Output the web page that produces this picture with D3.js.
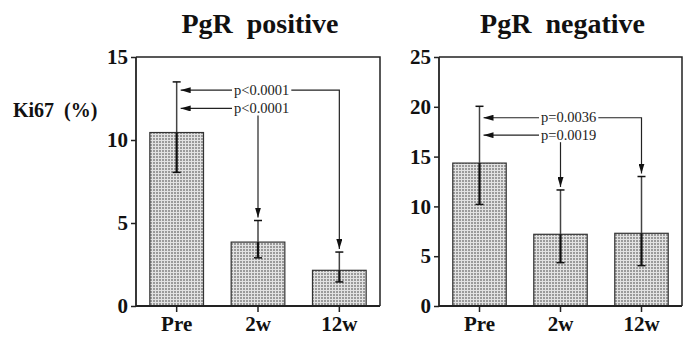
<!doctype html>
<html>
  <head>
    <meta charset="utf-8" />
    <title>Ki67 by PgR status</title>
    <script type="text/javascript" src="https://cdnjs.cloudflare.com/ajax/libs/d3/7.8.5/d3.min.js"></script>
    <style>
      body {
        margin:0;
        background:#fff;
      }
      svg text {
        font-family:"Liberation Serif", "DejaVu Serif", serif;
      }
    </style>
  </head>
  <body>
    <div id="chart"></div>
    <script type="text/javascript">

(function() {

/*chart data*/
var categories = ["Pre", "2w", "12w"];

var pos_mean  = [10.45, 3.85, 2.15];
var pos_upper = [13.5, 5.15, 3.25];
var pos_lower = [8.05, 2.9, 1.45];
var pos_ticks = [0, 5, 10, 15];

var neg_mean  = [14.35, 7.2, 7.3];
var neg_upper = [20.05, 11.65, 13.0];
var neg_lower = [10.2, 4.35, 4.05];
var neg_ticks = [0, 5, 10, 15, 20, 25];

/*comparison brackets: from Pre to target group, at height y (data units)*/
var pos_tests = [
  {to:"12w", y:13.0, label:"p<0.0001"},
  {to:"2w",  y:11.9, label:"p<0.0001"}
];
var neg_tests = [
  {to:"12w", y:18.9, label:"p=0.0036"},
  {to:"2w",  y:17.15, label:"p=0.0019"}
];

var W = 687, H = 337;

var svg = d3.select("#chart").append("svg")
  .attr("width", W)
  .attr("height", H);

/*stippled fill used by the bars*/
var defs = svg.append("defs");
var pat = defs.append("pattern")
  .attr("id", "stipple")
  .attr("patternUnits", "userSpaceOnUse")
  .attr("width", 3)
  .attr("height", 3);
pat.append("rect").attr("width", 3).attr("height", 3).attr("fill", "#e2e2e2");
pat.append("rect").attr("width", 2).attr("height", 2).attr("fill", "#9a9a9a");

defs.append("marker")
  .attr("id", "arrow")
  .attr("viewBox", "0 0 10 6")
  .attr("refX", 10)
  .attr("refY", 3)
  .attr("markerWidth", 10)
  .attr("markerHeight", 6)
  .attr("markerUnits", "userSpaceOnUse")
  .attr("orient", "auto")
  .append("path")
  .attr("d", "M0,0 L10,3 L0,6 Z")
  .attr("fill", "#111");

function draw_panel(opt) {
  var g = svg.append("g");

  var x = d3.scaleBand()
    .domain(categories)
    .range([opt.left, opt.right])
    .paddingInner(0.34)
    .paddingOuter(0.17);

  var y = d3.scaleLinear()
    .domain([0, d3.max(opt.ticks)])
    .range([opt.bottom, opt.top]);

  /*title*/
  g.append("text")
    .attr("x", (opt.left + opt.right) / 2 + 2)
    .attr("y", 33)
    .attr("text-anchor", "middle")
    .attr("font-size", 28)
    .attr("font-weight", "bold")
    .attr("fill", "#111")
    .style("white-space", "pre")
    .text(opt.title);

  /*bars*/
  var rows = categories.map(function(c, i) {
    return {cat:c, mean:opt.mean[i], hi:opt.upper[i], lo:opt.lower[i]};
  });

  g.selectAll("rect.bar")
    .data(rows)
    .enter()
    .append("rect")
    .attr("class", "bar")
    .attr("x", function(d) { return x(d.cat); })
    .attr("y", function(d) { return y(d.mean); })
    .attr("width", x.bandwidth())
    .attr("height", function(d) { return y(0) - y(d.mean); })
    .attr("fill", "url(#stipple)")
    .attr("stroke", "#333")
    .attr("stroke-width", 1.2);

  /*error bars*/
  var cx = function(d) { return x(d.cat) + x.bandwidth() / 2; };
  var err = g.selectAll("g.err")
    .data(rows)
    .enter()
    .append("g")
    .attr("class", "err");

  err.append("line")
    .attr("x1", cx).attr("x2", cx)
    .attr("y1", function(d) { return y(d.hi); })
    .attr("y2", function(d) { return y(d.mean); })
    .attr("stroke", "#444")
    .attr("stroke-width", 1.5);
  err.append("line")
    .attr("x1", cx).attr("x2", cx)
    .attr("y1", function(d) { return y(d.mean); })
    .attr("y2", function(d) { return y(d.lo); })
    .attr("stroke", "#111")
    .attr("stroke-width", 2.2);
  ["hi", "lo"].forEach(function(k) {
    err.append("line")
      .attr("x1", function(d) { return cx(d) - 4; })
      .attr("x2", function(d) { return cx(d) + 4; })
      .attr("y1", function(d) { return y(d[k]); })
      .attr("y2", function(d) { return y(d[k]); })
      .attr("stroke", "#111")
      .attr("stroke-width", 1.5);
  });

  /*frame: top and right edges*/
  g.append("path")
    .attr("d", "M" + opt.left + "," + opt.top + "H" + opt.right + "V" + opt.bottom)
    .attr("fill", "none")
    .attr("stroke", "#222")
    .attr("stroke-width", 1.5);

  /*axes*/
  var ya = g.append("g")
    .attr("transform", "translate(" + opt.left + ",0)")
    .call(d3.axisLeft(y).tickValues(opt.ticks).tickSize(5).tickPadding(3));
  var xa = g.append("g")
    .attr("transform", "translate(0," + opt.bottom + ")")
    .call(d3.axisBottom(x).tickSize(6).tickPadding(4).tickSizeOuter(0));

  [ya, xa].forEach(function(a) {
    a.select(".domain").attr("stroke", "#222").attr("stroke-width", 1.8);
    a.selectAll(".tick line").attr("stroke", "#222").attr("stroke-width", 1.5);
    a.selectAll("text")
      .attr("font-family", "Liberation Serif, serif")
      .attr("font-weight", "bold")
      .attr("font-size", 21)
      .attr("fill", "#111");
  });
  ya.select(".domain").attr("d", "M0," + opt.bottom + "V" + opt.top);
  xa.select(".domain").attr("d", "M" + opt.left + ",0H" + opt.right);
  xa.selectAll("text").attr("dy", "0.72em");

  /*comparison arrows*/
  var x0 = x("Pre") + x.bandwidth() / 2 + 4;
  opt.tests.forEach(function(t, i) {
    var ly = y(t.y);
    var tx = x(t.to) + x.bandwidth() / 2;
    var hi = opt.upper[categories.indexOf(t.to)];
    var tipY = y(hi) - 3;

    var label = g.append("text")
      .attr("x", opt.label_x)
      .attr("y", ly + 4.5)
      .attr("font-size", 14.5)
      .attr("fill", "#222")
      .text(t.label);
    var bb = label.node().getBBox();

    g.append("line")
      .attr("x1", bb.x - 2).attr("x2", x0)
      .attr("y1", ly).attr("y2", ly)
      .attr("stroke", "#222")
      .attr("stroke-width", 1.2)
      .attr("marker-end", "url(#arrow)");

    if (i === 0) {
      g.append("path")
        .attr("d", "M" + (bb.x + bb.width + 2) + "," + ly + "H" + tx + "V" + tipY)
        .attr("fill", "none")
        .attr("stroke", "#222")
        .attr("stroke-width", 1.2)
        .attr("marker-end", "url(#arrow)");
    } else {
      g.append("line")
        .attr("x1", tx).attr("x2", tx)
        .attr("y1", ly + 7).attr("y2", tipY)
        .attr("stroke", "#222")
        .attr("stroke-width", 1.2)
        .attr("marker-end", "url(#arrow)");
    }
  });

  if (opt.ylabel) {
    g.append("text")
      .attr("x", 13)
      .attr("y", 117)
      .attr("font-size", 20)
      .attr("font-weight", "bold")
      .attr("fill", "#111")
      .style("white-space", "pre")
      .text(opt.ylabel);
  }
}

draw_panel({
  title:"PgR  positive", ylabel:"Ki67  (%)",
  left:136, right:380, top:57, bottom:306,
  ticks:pos_ticks, mean:pos_mean, upper:pos_upper, lower:pos_lower,
  tests:pos_tests, label_x:234
});

draw_panel({
  title:"PgR  negative",
  left:439, right:682, top:57, bottom:306,
  ticks:neg_ticks, mean:neg_mean, upper:neg_upper, lower:neg_lower,
  tests:neg_tests, label_x:541
});

})();

    </script>
  </body>
</html>
